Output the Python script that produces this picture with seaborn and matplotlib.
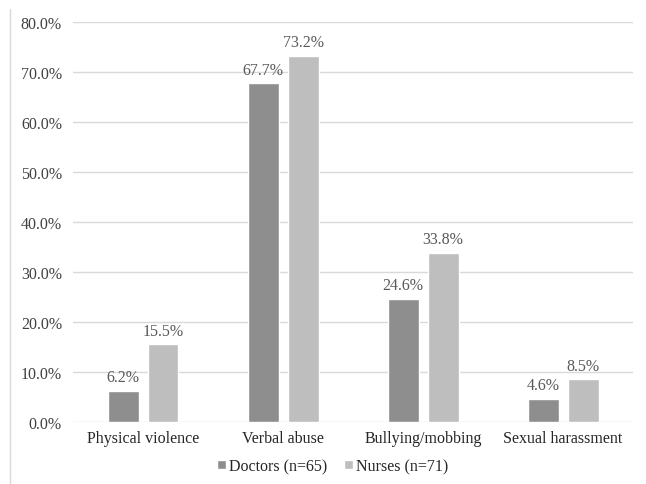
import matplotlib
matplotlib.use('Agg')
from matplotlib import pyplot as plt
from matplotlib.lines import Line2D
import pandas as pd
import seaborn as sns

# chart values (percent)
categories = ['Physical violence', 'Verbal abuse', 'Bullying/mobbing', 'Sexual harassment']
doctors = [6.2, 67.7, 24.6, 4.6]
nurses = [15.5, 73.2, 33.8, 8.5]
group_names = ['Doctors (n=65)', 'Nurses (n=71)']
y_ticks = [0, 10, 20, 30, 40, 50, 60, 70, 80]

# long table for seaborn
df = pd.DataFrame({
    'category': categories * 2,
    'value': doctors + nurses,
    'group': [group_names[0]] * len(categories) + [group_names[1]] * len(categories),
})

sns.set_style('white')
plt.rcParams['font.family'] = ['Liberation Serif', 'DejaVu Serif']
fs = 11.5

fig = plt.figure(figsize=(6.46, 4.85), dpi=100)
ax = fig.add_axes([0.113, 0.1285, 0.867, 0.8245])

sns.barplot(data=df, x='category', y='value', hue='group', order=categories,
            hue_order=group_names, palette=['#8e8e8e', '#bebebe'],
            width=0.571, gap=0.225, saturation=1, ax=ax, legend=True)

# data labels above bars
for cont in ax.containers:
    ax.bar_label(cont, fmt='%.1f%%', padding=4, color='#595959', fontsize=fs)

ax.set_ylim(0, 80)
ax.set_yticks(y_ticks)
ax.set_yticklabels([f'{t:.1f}%' for t in y_ticks])
ax.set_xlim(-0.5, len(categories) - 0.5)
ax.set_xlabel('')
ax.set_ylabel('')
ax.grid(axis='y', color='#d9d9d9', linewidth=1)
ax.set_axisbelow(True)
for s in ax.spines.values():
    s.set_visible(False)
ax.tick_params(axis='y', length=0, pad=8, labelcolor='#404040', labelsize=fs)
ax.tick_params(axis='x', length=0, pad=6, labelcolor='#262626', labelsize=fs)

# legend at the bottom
handles, labels = ax.get_legend_handles_labels()
ax.get_legend().remove()
fig.legend(handles, labels, loc='center', bbox_to_anchor=(0.515, 0.037), ncol=2,
           frameon=False, handlelength=0.55, handleheight=0.55, handletextpad=0.15,
           columnspacing=1.1, prop={'family': 'Liberation Serif', 'size': fs},
           labelcolor='#262626')

# thin frame line on the left side of the picture
fig.add_artist(Line2D([10 / 646, 10 / 646], [0, 1 - 10 / 485], color='#d9d9d9', linewidth=1))

fig.savefig('out.png', dpi=100)
